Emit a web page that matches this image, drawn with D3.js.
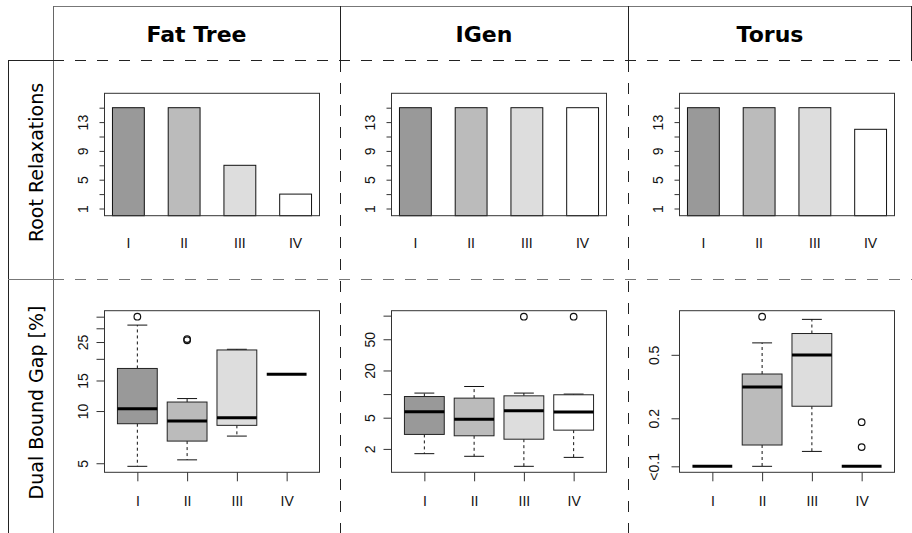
<!DOCTYPE html>
<html>
<head>
<meta charset="utf-8">
<script src="https://cdn.jsdelivr.net/npm/d3@7"></script>
<style>
  body { margin: 0; background: #fff; }
  .axis text { font-family: "Liberation Sans", Arial, sans-serif; font-size: 14px; fill: #111; }
  .hdr { font-family: "DejaVu Sans", sans-serif; font-weight: bold; font-size: 22px; fill: #000; }
  .rowlab { font-family: "DejaVu Sans", sans-serif; font-size: 19px; fill: #000; }
</style>
</head>
<body>
<script>
const networks = ["Fat Tree", "IGen", "Torus"];
const variants = ["I", "II", "III", "IV"];

// root relaxations per variant
const relaxFatTree = [15, 15, 7, 3];
const relaxIGen = [15, 15, 15, 15];
const relaxTorus = [15, 15, 15, 12];
const relaxTicks = [1, 3, 5, 7, 9, 11, 13, 15];
const relaxLabels = [1, 5, 9, 13];
const relaxMax = 17;

// dual bound gap [%]: [lower whisker, q1, median, q3, upper whisker]
const gapFatTree = [[4.8, 8.45, 10.3, 17.6, 31.3], [5.23, 6.71, 8.75, 11.27, 11.8], [7.17, 8.27, 9.16, 22.5, 22.7], [16.3, 16.3, 16.3, 16.3, 16.3]];
const outFatTree = [[35], [25.6, 26.0], [], []];
const gapIGen = [[1.74, 3.06, 5.97, 9.31, 10.3], [1.61, 2.94, 4.77, 8.88, 12.5], [1.2, 2.66, 6.15, 9.5, 10.3], [1.56, 3.47, 5.9, 9.8, 10.0]];
const outIGen = [[], [], [97], [97]];
const gapTorus = [[0.1, 0.1, 0.1, 0.1, 0.1], [0.1, 0.136, 0.314, 0.379, 0.594], [0.124, 0.238, 0.499, 0.68, 0.834], [0.1, 0.1, 0.1, 0.1, 0.1]];
const outTorus = [[], [0.867], [], [0.189, 0.132]];

const gapTicksFatTree = [5, 10, 15, 20, 25, 30, 35];
const gapLabelsFatTree = [5, 10, 15, 25];
const gapTicksIGen = [2, 5, 10, 20, 50, 100];
const gapLabelsIGen = [2, 5, 20, 50];
const gapTicksTorus = [0.1, 0.2, 0.5];
const gapLabelsTorus = ["<0.1", "0.2", "0.5"];

const fills = ["#999999", "#BBBBBB", "#DDDDDD", "#FFFFFF"];

const W = 912, H = 533;
const colX = [53, 340, 628, 912];
const barTop = 93.3, barBottom = 215.7;
const boxTop = 310.7, boxBottom = 472.3;

const svg = d3.select("body").append("svg").attr("width", W).attr("height", H);

// ---- table frame ----
const frame = svg.append("g").attr("fill", "none");
frame.append("line").attr("x1", 53).attr("x2", 912).attr("y1", 6.5).attr("y2", 6.5).attr("stroke", "#777");
[53.5, 340.5, 628.5, 911.5].forEach((x, i) => {
  frame.append("line").attr("x1", x).attr("x2", x).attr("y1", 6).attr("y2", i === 0 ? H : 61)
    .attr("stroke", i === 0 ? "#666" : "#222");
});
frame.append("line").attr("x1", 8.5).attr("x2", 8.5).attr("y1", 60).attr("y2", H).attr("stroke", "#222");
frame.append("line").attr("x1", 8).attr("x2", 53).attr("y1", 60.5).attr("y2", 60.5).attr("stroke", "#222");
frame.append("line").attr("x1", 53).attr("x2", 912).attr("y1", 60.5).attr("y2", 60.5)
  .attr("stroke", "#222").attr("stroke-dasharray", "11,11");
frame.append("line").attr("x1", 8).attr("x2", 53).attr("y1", 279.5).attr("y2", 279.5).attr("stroke", "#777");
frame.append("line").attr("x1", 53).attr("x2", 912).attr("y1", 279.5).attr("y2", 279.5)
  .attr("stroke", "#777").attr("stroke-dasharray", "11,11");
[340.5, 628.5].forEach(x => {
  frame.append("line").attr("x1", x).attr("x2", x).attr("y1", 61).attr("y2", H)
    .attr("stroke", "#222").attr("stroke-dasharray", "11,11");
});

networks.forEach((n, i) => {
  svg.append("text").attr("class", "hdr")
    .attr("x", (colX[i] + colX[i + 1]) / 2).attr("y", 42)
    .attr("text-anchor", "middle").text(n);
});

svg.append("text").attr("class", "rowlab").attr("text-anchor", "middle")
  .attr("transform", "translate(43,162.5) rotate(-90)").text("Root Relaxations");
svg.append("text").attr("class", "rowlab").attr("text-anchor", "middle")
  .attr("transform", "translate(43,402.5) rotate(-90)").text("Dual Bound Gap [%]");

// rotate y tick labels like R (las = 0)
function styleYAxis(g, offset) {
  g.select(".domain").remove();
  g.selectAll(".tick line").attr("stroke", "#333");
  g.selectAll(".tick text")
    .attr("x", 0).attr("y", -offset).attr("dy", 0)
    .attr("text-anchor", "middle")
    .attr("transform", "rotate(-90)");
}

function drawBars(i, values) {
  const left = colX[i] + 51.5, right = left + 215;
  const x = d3.scaleBand().domain(variants).range([left, right])
    .paddingInner(0.75 / 1.75).paddingOuter(0.25 / 1.75);
  const y = d3.scaleLinear().domain([0, relaxMax]).range([barBottom, barTop]);
  const g = svg.append("g");

  g.selectAll("rect.bar").data(values).join("rect")
    .attr("class", "bar")
    .attr("x", (d, j) => x(variants[j]))
    .attr("width", x.bandwidth())
    .attr("y", d => y(d))
    .attr("height", d => y(0) - y(d))
    .attr("fill", (d, j) => fills[j])
    .attr("stroke", "#111").attr("stroke-width", 1);

  g.append("rect").attr("x", left).attr("y", barTop)
    .attr("width", right - left).attr("height", barBottom - barTop)
    .attr("fill", "none").attr("stroke", "#333");

  g.append("g").attr("class", "axis").attr("transform", `translate(${left},0)`)
    .call(d3.axisLeft(y).tickValues(relaxTicks).tickSize(5)
      .tickFormat(d => relaxLabels.includes(d) ? d : ""))
    .call(a => styleYAxis(a, 17));

  g.append("g").attr("class", "axis")
    .selectAll("text").data(variants).join("text")
    .attr("x", d => x(d) + x.bandwidth() / 2).attr("y", 248)
    .attr("text-anchor", "middle").text(d => d);
}

function drawBoxes(i, stats, outs, ticks, labels) {
  const left = colX[i] + 51.5, right = left + 215;
  const x = d3.scaleLinear().domain([0.34, 4.66]).range([left, right]);
  const all = stats.flat().concat(outs.flat());
  const lo = Math.log10(d3.min(all)), hi = Math.log10(d3.max(all));
  const ext = (hi - lo) * 0.04;
  const y = d3.scaleLog().domain([10 ** (lo - ext), 10 ** (hi + ext)]).range([boxBottom, boxTop]);
  const bw = x(1.4) - x(1);
  const g = svg.append("g");

  const b = g.selectAll("g.bx").data(stats).join("g").attr("class", "bx");
  const cx = (d, j) => x(j + 1);
  // whiskers
  b.append("line").attr("x1", cx).attr("x2", cx)
    .attr("y1", d => y(d[3])).attr("y2", d => y(d[4]))
    .attr("stroke", "#111").attr("stroke-dasharray", "3,3");
  b.append("line").attr("x1", cx).attr("x2", cx)
    .attr("y1", d => y(d[1])).attr("y2", d => y(d[0]))
    .attr("stroke", "#111").attr("stroke-dasharray", "3,3");
  [0, 4].forEach(k => {
    b.append("line")
      .attr("x1", (d, j) => x(j + 1) - bw / 2).attr("x2", (d, j) => x(j + 1) + bw / 2)
      .attr("y1", d => y(d[k])).attr("y2", d => y(d[k]))
      .attr("stroke", "#111");
  });
  b.append("rect")
    .attr("x", (d, j) => x(j + 1) - bw).attr("width", 2 * bw)
    .attr("y", d => y(d[3])).attr("height", d => y(d[1]) - y(d[3]))
    .attr("fill", (d, j) => fills[j]).attr("stroke", "#222");
  b.append("line")
    .attr("x1", (d, j) => x(j + 1) - bw).attr("x2", (d, j) => x(j + 1) + bw)
    .attr("y1", d => y(d[2])).attr("y2", d => y(d[2]))
    .attr("stroke", "#000").attr("stroke-width", 3);

  const pts = outs.flatMap((o, j) => o.map(v => ({ j, v })));
  g.selectAll("circle").data(pts).join("circle")
    .attr("cx", d => x(d.j + 1)).attr("cy", d => y(d.v)).attr("r", 3.3)
    .attr("fill", "none").attr("stroke", "#111").attr("stroke-width", 1.2);

  g.append("rect").attr("x", left).attr("y", boxTop)
    .attr("width", right - left).attr("height", boxBottom - boxTop)
    .attr("fill", "none").attr("stroke", "#333");

  g.append("g").attr("class", "axis").attr("transform", `translate(${left},0)`)
    .call(d3.axisLeft(y).tickValues(ticks).tickSize(8)
      .tickFormat(d => {
        const k = ticks.indexOf(d);
        if (typeof labels[0] === "string") return labels[k];
        return labels.includes(d) ? d : "";
      }))
    .call(a => styleYAxis(a, i === 2 ? 21 : 17));

  g.append("g").attr("class", "axis").attr("transform", `translate(0,${boxBottom})`)
    .call(d3.axisBottom(x).tickValues([1, 2, 3, 4]).tickSize(9).tickPadding(15)
      .tickFormat(d => variants[d - 1]))
    .call(a => {
      a.select(".domain").remove();
      a.selectAll(".tick line").attr("stroke", "#333");
    });
}

drawBars(0, relaxFatTree);
drawBars(1, relaxIGen);
drawBars(2, relaxTorus);
drawBoxes(0, gapFatTree, outFatTree, gapTicksFatTree, gapLabelsFatTree);
drawBoxes(1, gapIGen, outIGen, gapTicksIGen, gapLabelsIGen);
drawBoxes(2, gapTorus, outTorus, gapTicksTorus, gapLabelsTorus);
</script>
</body>
</html>
